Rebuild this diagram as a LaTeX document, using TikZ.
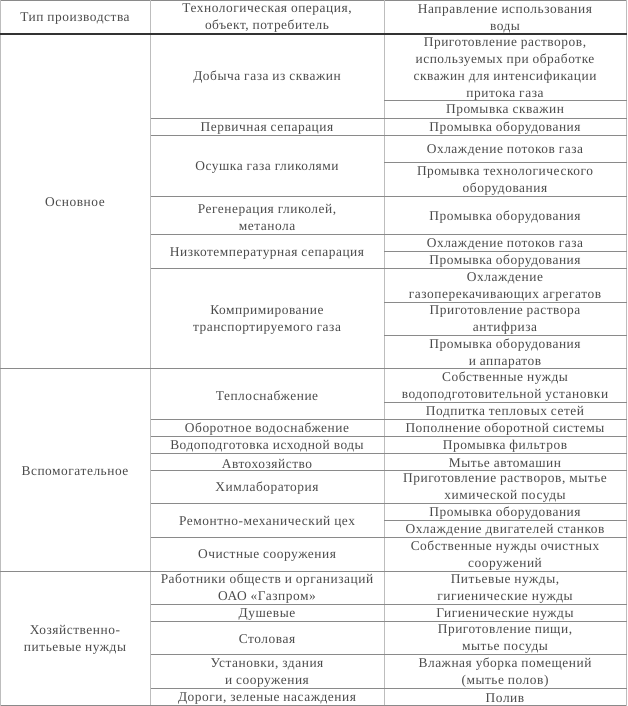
\documentclass[tikz,border=0pt]{standalone}
\usepackage{fontspec}
\setmainfont[LetterSpace=4]{Liberation Serif}
\definecolor{txt}{HTML}{4A4A4A}
\definecolor{rule}{HTML}{8A8A8A}
\definecolor{vrule}{HTML}{BDBDBD}
\definecolor{hrule}{HTML}{333333}
\begin{document}
\begin{tikzpicture}[x=1pt,y=-1pt,
  cell/.style={align=center,inner sep=0pt,text=txt,yshift=-1.5pt,font=\fontsize{13.4}{17}\selectfont},
  hl/.style={draw=rule,line width=0.8pt},
  vl/.style={draw=vrule,line width=1pt},
  headl/.style={draw=hrule,line width=1.4pt}]
\useasboundingbox (0,0) rectangle (627,706);
% frame
\draw[hl] (0,0.5) -- (627,0.5);
\draw[hl] (0,705.3) -- (627,705.3);
\draw[vl] (0.5,0) -- (0.5,706);
\draw[vl] (626.3,0) -- (626.3,706);
\draw[vl] (150.5,0) -- (150.5,705.3);
\draw[vl] (384,0) -- (384,705.3);
\draw[headl] (0,34) -- (627,34);
% full rules
\foreach \y in {368.7,571} \draw[hl] (0,\y) -- (627,\y);
% col2+3 rules
\foreach \y in {118,135.3,196.7,234.7,268.7,419.3,436.7,453.7,470.3,503.3,537.7,604.3,621.3,654.7,688.3}
  \draw[hl] (150.5,\y) -- (627,\y);
% col3 rules
\foreach \y in {100.7,162.7,251.3,302,335.3,402,520.7}
  \draw[hl] (384,\y) -- (627,\y);
% header
\node[cell] (h1) at (75,17) {Тип производства};
\node[cell] (h2) at (267,17) {Технологическая операция,\\объект, потребитель};
\node[cell] (h3) at (505,17) {Направление использования\\воды};
% column 1
\node[cell] (t1) at (75,201) {Основное};
\node[cell] (t2) at (75,470) {Вспомогательное};
\node[cell] (t3) at (75,638) {Хозяйственно-\\питьевые нужды};
% column 2
\node[cell] (o1) at (267,76) {Добыча газа из скважин};
\node[cell] (o2) at (267,126.7) {Первичная сепарация};
\node[cell] (o3) at (267,166) {Осушка газа гликолями};
\node[cell] (o4) at (267,215.7) {Регенерация гликолей,\\метанола};
\node[cell] (o5) at (267,251.7) {Низкотемпературная сепарация};
\node[cell] (o6) at (267,318.7) {Компримирование\\транспортируемого газа};
\node[cell] (o7) at (267,394) {Теплоснабжение};
\node[cell] (o8) at (267,428) {Оборотное водоснабжение};
\node[cell] (o9) at (267,445.2) {Водоподготовка исходной воды};
\node[cell] (o10) at (267,462) {Автохозяйство};
\node[cell] (o11) at (267,486.8) {Химлаборатория};
\node[cell] (o12) at (267,520.5) {Ремонтно-механический цех};
\node[cell] (o13) at (267,554.3) {Очистные сооружения};
\node[cell] (o14) at (267,587.6) {Работники обществ и организаций\\ОАО «Газпром»};
\node[cell] (o15) at (267,612.8) {Душевые};
\node[cell] (o16) at (267,638) {Столовая};
\node[cell] (o17) at (267,671.5) {Установки, здания\\и сооружения};
\node[cell] (o18) at (267,696.8) {Дороги, зеленые насаждения};
% column 3
\node[cell] (d1) at (505,67.3) {Приготовление растворов,\\используемых при обработке\\скважин для интенсификации\\притока газа};
\node[cell] (d2) at (505,109.3) {Промывка скважин};
\node[cell] (d3) at (505,126.7) {Промывка оборудования};
\node[cell] (d4) at (505,149) {Охлаждение потоков газа};
\node[cell] (d5) at (505,179.7) {Промывка технологического\\оборудования};
\node[cell] (d6) at (505,215.7) {Промывка оборудования};
\node[cell] (d7) at (505,243) {Охлаждение потоков газа};
\node[cell] (d8) at (505,260) {Промывка оборудования};
\node[cell] (d9) at (505,285.3) {Охлаждение\\газоперекачивающих агрегатов};
\node[cell] (d10) at (505,318.7) {Приготовление раствора\\антифриза};
\node[cell] (d11) at (505,352) {Промывка оборудования\\и аппаратов};
\node[cell] (d12) at (505,385.3) {Собственные нужды\\водоподготовительной установки};
\node[cell] (d13) at (505,410.7) {Подпитка тепловых сетей};
\node[cell] (d14) at (505,428) {Пополнение оборотной системы};
\node[cell] (d15) at (505,445.2) {Промывка фильтров};
\node[cell] (d16) at (505,462) {Мытье автомашин};
\node[cell] (d17) at (505,486.8) {Приготовление растворов, мытье\\химической посуды};
\node[cell] (d18) at (505,512) {Промывка оборудования};
\node[cell] (d19) at (505,529.2) {Охлаждение двигателей станков};
\node[cell] (d20) at (505,554.3) {Собственные нужды очистных\\сооружений};
\node[cell] (d21) at (505,587.6) {Питьевые нужды,\\гигиенические нужды};
\node[cell] (d22) at (505,612.8) {Гигиенические нужды};
\node[cell] (d23) at (505,638) {Приготовление пищи,\\мытье посуды};
\node[cell] (d24) at (505,671.5) {Влажная уборка помещений\\(мытье полов)};
\node[cell] (d25) at (505,696.8) {Полив};
\end{tikzpicture}
\end{document}
